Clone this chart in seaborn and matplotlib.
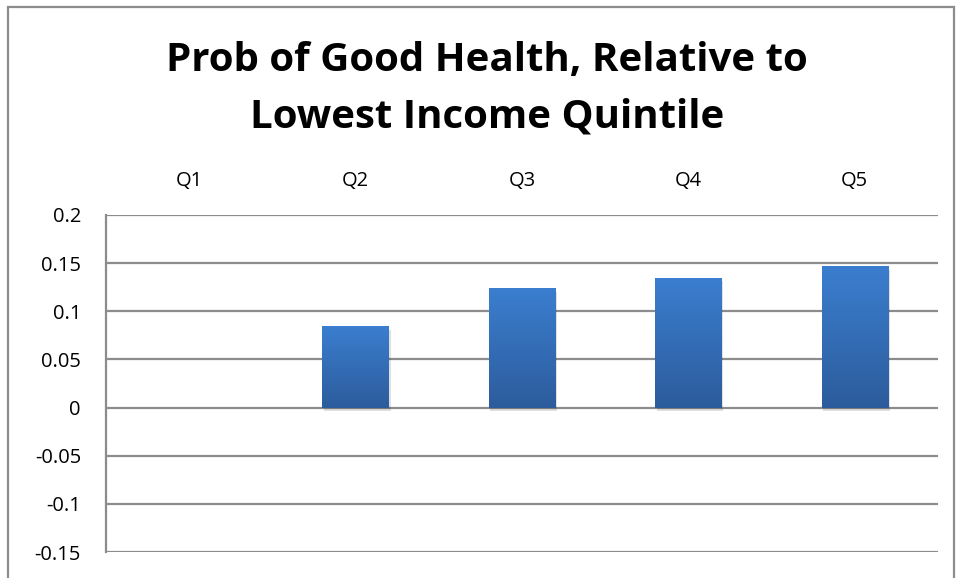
import matplotlib
matplotlib.use("Agg")
import matplotlib.pyplot as plt
import seaborn as sns
import numpy as np
import pandas as pd
from matplotlib.patches import Rectangle
from matplotlib.colors import LinearSegmentedColormap

categories = ["Q1", "Q2", "Q3", "Q4", "Q5"]
values = [0.0, 0.085, 0.124, 0.135, 0.147]
yticks = [-0.15, -0.1, -0.05, 0, 0.05, 0.1, 0.15, 0.2]
ytick_labels = ["-0.15", "-0.1", "-0.05", "0", "0.05", "0.1", "0.15", "0.2"]
title_lines = ["Prob of Good Health, Relative to", "Lowest Income Quintile"]

sns.set_style("white")
plt.rcParams['font.family'] = ['Open Sans', 'DejaVu Sans']

fig = plt.figure(figsize=(9.56, 5.78), dpi=100)
ax = fig.add_axes([106/956, 1-552/578, (938-106)/956, (552-215)/578])

df = pd.DataFrame({"cat": categories, "val": values})
sns.barplot(data=df, x="cat", y="val", ax=ax, color="#3470b8", width=0.40,
            zorder=3, linewidth=0)

ax.set_ylim(-0.15, 0.2)
ax.set_yticks(yticks)
ax.set_yticklabels(ytick_labels, fontsize=14.5, color="black")
ax.grid(axis="y", color="#8c8c8c", linewidth=1.6, zorder=1)
ax.xaxis.tick_top()
ax.tick_params(axis="x", length=0, pad=17, labelsize=14.5, labelcolor="black")
ax.tick_params(axis="y", length=0, pad=18)
ax.set_xlabel("")
ax.set_ylabel("")
for s in ["top", "right", "bottom"]:
    ax.spines[s].set_visible(False)
ax.spines["left"].set_color("#8c8c8c")
ax.spines["left"].set_linewidth(1.6)

grad = np.linspace(0, 1, 256).reshape(-1, 1)
cmap = LinearSegmentedColormap.from_list("g", ["#2c5c9c", "#3b7ecf"])
for p in list(ax.patches):
    x0, y0 = p.get_x(), p.get_y()
    w, h = p.get_width(), p.get_height()
    if h <= 0:
        continue
    sh = Rectangle((x0 + 0.01, y0 - 0.004), w, h, facecolor="#000000", alpha=0.12,
                   edgecolor="none", zorder=2)
    ax.add_patch(sh)
    im = ax.imshow(grad, extent=[x0, x0 + w, y0, y0 + h], origin="lower",
                   cmap=cmap, aspect="auto", zorder=4)
    im.set_clip_path(p)
ax.set_xlim(-0.5, 4.5)

fig.text(487/956, 1 - 60/578, title_lines[0], ha="center", va="center", fontsize=29,
         fontweight="bold", color="black")
fig.text(487/956, 1 - 117/578, title_lines[1], ha="center", va="center", fontsize=29,
         fontweight="bold", color="black")

frame = Rectangle((8/956, -0.01), (954-8)/956, 1 - 7/578 + 0.01, transform=fig.transFigure,
                  fill=False, edgecolor="#8c8c8c", linewidth=1.6)
fig.patches.append(frame)

fig.savefig("out.png", dpi=100, facecolor="white")
